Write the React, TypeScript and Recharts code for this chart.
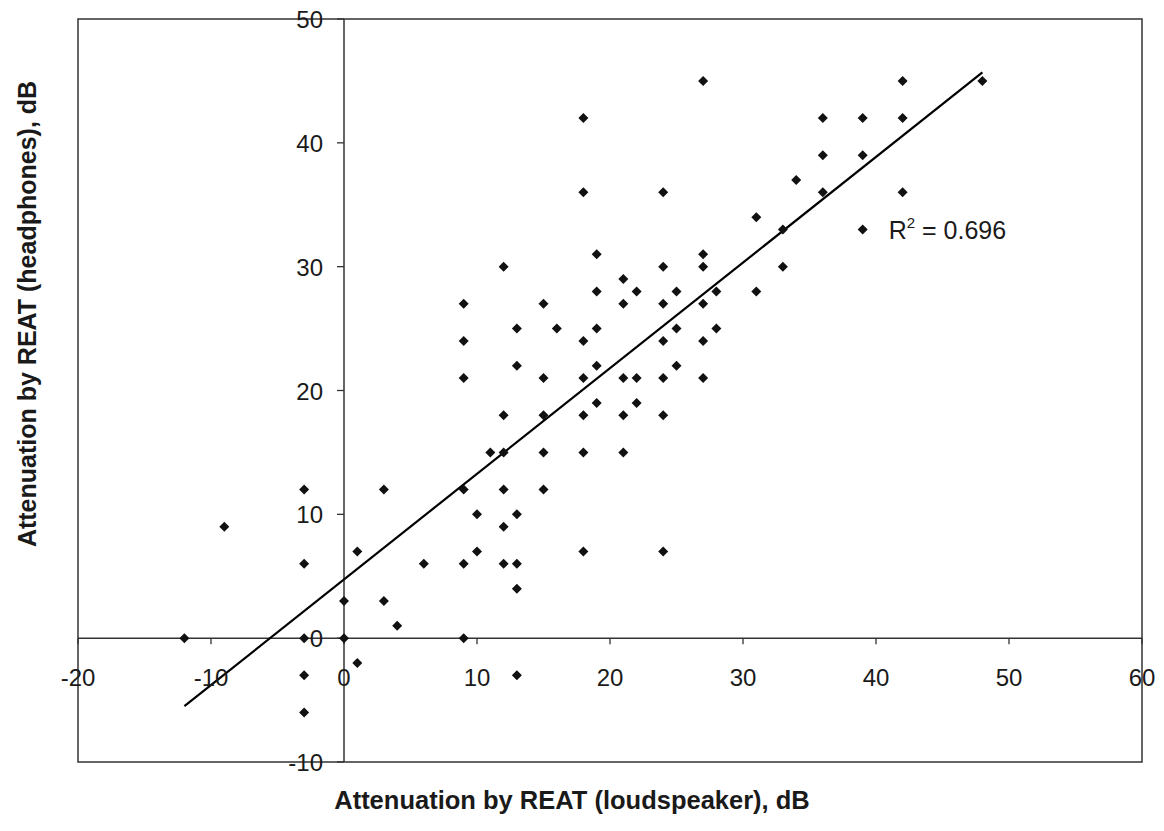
import React from 'react';
import {
  ScatterChart,
  Scatter,
  XAxis,
  YAxis,
  ReferenceLine,
  ReferenceArea,
  ReferenceDot,
} from 'recharts';

// Attenuation measured with loudspeaker (x) and headphones (y), dB
const speakerDb = [
  -12, -9, -3, -3, -3, -3, -3, 0, 0, 1, 1, 3, 3, 4, 6,
  9, 9, 9, 9, 9, 9, 10, 10, 11, 12, 12, 12, 12, 12, 12,
  13, 13, 13, 13, 13, 13, 15, 15, 15, 15, 15, 16,
  18, 18, 18, 18, 18, 18, 18, 19, 19, 19, 19, 19,
  21, 21, 21, 21, 21, 22, 22, 22, 24, 24, 24, 24, 24, 24, 24,
  25, 25, 25, 27, 27, 27, 27, 27, 27, 28, 28, 31, 31, 33, 33, 34,
  36, 36, 36, 39, 39, 39, 42, 42, 42, 48,
];
const headphoneDb = [
  0, 9, 12, 6, 0, -3, -6, 3, 0, 7, -2, 12, 3, 1, 6,
  27, 24, 21, 12, 6, 0, 10, 7, 15, 30, 18, 15, 12, 9, 6,
  25, 22, 10, 6, 4, -3, 27, 21, 18, 15, 12, 25,
  42, 36, 24, 21, 18, 15, 7, 31, 28, 25, 22, 19,
  29, 27, 21, 18, 15, 28, 21, 19, 36, 30, 27, 24, 21, 18, 7,
  28, 25, 22, 45, 31, 30, 27, 24, 21, 28, 25, 34, 28, 33, 30, 37,
  42, 39, 36, 42, 39, 33, 45, 42, 36, 45,
];

const xTicks = [-20, -10, 0, 10, 20, 30, 40, 50, 60];
const yTicks = [-10, 0, 10, 20, 30, 40, 50];

// Linear trend line
const trendSlope = 0.853;
const trendIntercept = 4.74;
const trendRange = [-12, 48];
const rSquaredText = '0.696';
const rSquaredAnchor = { x: 39, y: 33 };

const points = speakerDb.map((x, i) => ({ x, y: headphoneDb[i] }));
const trendSegment = trendRange.map((x) => ({ x, y: trendSlope * x + trendIntercept }));

const FONT = '"Liberation Sans", Arial, sans-serif';
const INK = '#1a1a1a';
const AXIS = '#333';

const Diamond = (props: any) => {
  const { cx, cy } = props;
  if (cx == null || cy == null) return null;
  const r = 5;
  return (
    <polygon
      points={`${cx},${cy - r} ${cx + r},${cy} ${cx},${cy + r} ${cx - r},${cy}`}
      fill="#111"
    />
  );
};

const XTick = (value: number) => (props: any) => {
  const { cx, cy } = props;
  return (
    <g>
      <line x1={cx} y1={cy} x2={cx} y2={cy + 6} stroke={AXIS} strokeWidth={1.3} />
      <text
        x={cx}
        y={cy + 48}
        textAnchor="middle"
        fontFamily={FONT}
        fontSize={24}
        fill={INK}
      >
        {value}
      </text>
    </g>
  );
};

const YTick = (value: number) => (props: any) => {
  const { cx, cy } = props;
  return (
    <g>
      <line x1={cx - 7} y1={cy} x2={cx} y2={cy} stroke={AXIS} strokeWidth={1.3} />
      <text
        x={cx - 21}
        y={cy + 9}
        textAnchor="end"
        fontFamily={FONT}
        fontSize={24}
        fill={INK}
      >
        {value}
      </text>
    </g>
  );
};

const RSquaredLabel = (props: any) => {
  const { cx, cy } = props;
  return (
    <text x={cx + 26} y={cy + 9} fontFamily={FONT} fontSize={25} fill={INK}>
      R
      <tspan fontSize={15} dy={-11}>2</tspan>
      <tspan dy={11}>{` = ${rSquaredText}`}</tspan>
    </text>
  );
};

export default function App() {
  return (
    <div style={{ position: 'relative', width: 1164, height: 831, margin: '-8px 0 0 -8px', background: '#fff' }}>
      <ScatterChart
        width={1164}
        height={831}
        margin={{ top: 19, right: 22, bottom: 69, left: 78 }}
      >
        <XAxis type="number" dataKey="x" domain={[-20, 60]} ticks={xTicks} hide />
        <YAxis type="number" dataKey="y" domain={[-10, 50]} ticks={yTicks} hide />
        <ReferenceArea
          x1={-20}
          x2={60}
          y1={-10}
          y2={50}
          fill="none"
          stroke={AXIS}
          strokeWidth={1.5}
          fillOpacity={0}
        />
        <ReferenceLine x={0} stroke={AXIS} strokeWidth={1.5} />
        <ReferenceLine y={0} stroke={AXIS} strokeWidth={1.5} />
        {xTicks.map((t) => (
          <ReferenceDot key={`xt${t}`} x={t} y={0} r={0} shape={XTick(t)} />
        ))}
        {yTicks.map((t) => (
          <ReferenceDot key={`yt${t}`} x={0} y={t} r={0} shape={YTick(t)} />
        ))}
        <Scatter data={points} shape={<Diamond />} isAnimationActive={false} />
        <ReferenceLine segment={trendSegment} stroke="#000" strokeWidth={2.2} />
        <ReferenceDot
          x={rSquaredAnchor.x}
          y={rSquaredAnchor.y}
          r={0}
          shape={RSquaredLabel}
        />
      </ScatterChart>
      <div
        style={{
          position: 'absolute',
          left: 572,
          top: 800,
          transform: 'translate(-50%, -50%)',
          whiteSpace: 'nowrap',
          fontFamily: FONT,
          fontWeight: 'bold',
          fontSize: 25.5,
          color: INK,
        }}
      >
        Attenuation by REAT (loudspeaker), dB
      </div>
      <div
        style={{
          position: 'absolute',
          left: 27,
          top: 314,
          transform: 'translate(-50%, -50%) rotate(-90deg)',
          whiteSpace: 'nowrap',
          fontFamily: FONT,
          fontWeight: 'bold',
          fontSize: 25,
          color: INK,
        }}
      >
        Attenuation by REAT (headphones), dB
      </div>
    </div>
  );
}
